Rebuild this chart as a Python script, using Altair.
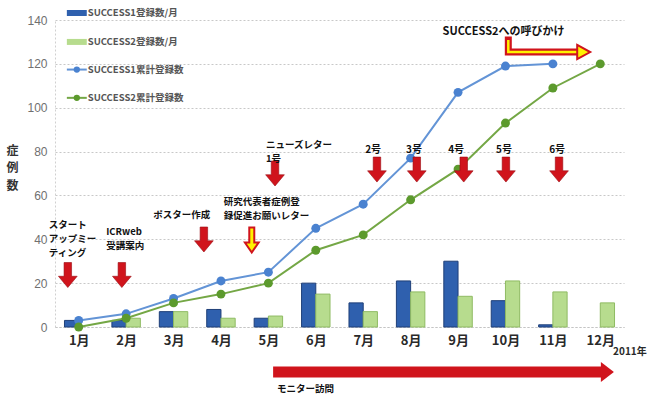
import altair as alt
import pandas as pd

# ---------------- data ----------------
months = list(range(1, 13))
s1_monthly = [3, 3, 7, 8, 4, 20, 11, 21, 30, 12, 1, 0]
s2_monthly = [0, 4, 7, 4, 5, 15, 7, 16, 14, 21, 16, 11]
s1_cum = [3, 6, 13, 21, 25, 45, 56, 77, 107, 119, 120, None]
s2_cum = [0, 4, 11, 15, 20, 35, 42, 58, 72, 93, 109, 120]
y_ticks = [0, 20, 40, 60, 80, 100, 120, 140]
legend_labels = ["SUCCESS1登録数/月", "SUCCESS2登録数/月", "SUCCESS1累計登録数", "SUCCESS2累計登録数"]

# annotation anchors (month position, value)
red_arrow_m = [0.77, 1.91, 3.64, 5.14, 7.29, 8.13, 9.12, 10.01, 11.13]
red_arrow_v = [23.7, 23.7, 39.9, 70.0, 71.8, 71.8, 71.8, 71.8, 71.8]
yellow_arrow_m = [4.65]
yellow_arrow_v = [39.7]

left_text = ["スタート", "アップミー", "ティング", "ICRweb", "受講案内", "ポスター作成",
             "研究代表者症例登", "録促進お願いレター", "ニューズレター", "1号", "モニター訪問"]
left_text_m = [0.37, 0.37, 0.37, 1.58, 1.58, 2.57, 4.06, 4.06, 4.95, 4.95, 5.18]
left_text_v = [46.5, 40.1, 33.7, 43.3, 36.9, 51.1, 56.8, 50.4, 83.2, 76.8, -28.3]

issue_text = ["2号", "3号", "4号", "5号", "6号"]
issue_text_m = [7.21, 8.07, 8.96, 9.97, 11.09]
issue_text_v = [80.9, 80.9, 80.9, 80.9, 80.9]

call_text = ["SUCCESS2への呼びかけ"]
call_text_m = [9.96]
call_text_v = [134.3]
call_path_m = [10.06, 10.06, 11.56]
call_path_v = [130.9, 125.4, 125.4]
call_head_m = [11.65]
call_head_v = [125.4]

monitor_m = [5.10]
monitor_m2 = [12.06]
monitor_v = [-20.5]
monitor_head_m = [12.15]

year_text = ["2011年"]
year_m = [12.27]
year_v = [-11.4]

legend_v = [143.2, 130.0, 117.4, 104.5]
legend_sym_m = [0.75, 1.17]
legend_dot_m = 0.96
legend_text_m = 1.19

# ---------------- styles ----------------
FONT = "Noto Sans CJK JP"
BLUE_BAR = "#2f60ae"
BLUE_BAR_STROKE = "#1f3f78"
GREEN_BAR = "#b7dc8e"
GREEN_BAR_STROKE = "#8fbb63"
BLUE_LINE = "#6394d6"
BLUE_PT = "#4a82d0"
GREEN_LINE = "#74a745"
GREEN_PT = "#5c9a2d"
RED = "#d0141c"
RED_DARK = "#9a0c12"
YELLOW = "#fff200"

DOWN_ARROW = "M-0.3,-1 L0.3,-1 L0.3,0.1 L0.75,0.1 L0,1 L-0.75,0.1 L-0.3,0.1 Z"
THIN_DOWN_ARROW = "M-0.2,-1 L0.2,-1 L0.2,0.2 L0.55,0.2 L0,1 L-0.55,0.2 L-0.2,0.2 Z"
RIGHT_HEAD = "M-0.65,-1 L0.65,0 L-0.65,1 Z"
RIGHT_HEAD_SMALL = "M-0.5,-0.55 L0.5,0 L-0.5,0.55 Z"

xscale = alt.Scale(domain=[0.5, 12.5], nice=False, zero=False)
yscale = alt.Scale(domain=[0, 140], nice=False)
xaxis = alt.Axis(values=months, labelExpr="datum.value + '月'", title=None, grid=False,
                 ticks=False, domain=True, domainColor="#c4c4c4", domainDash=[2, 2],
                 labelFont=FONT, labelFontSize=13, labelFontWeight="bold",
                 labelColor="#2a2a2a", labelPadding=7)
yaxis = alt.Axis(values=y_ticks, title=["症", "例", "数"], titleAngle=0, titleX=-43, titleY=130,
                 titleAlign="center", titleBaseline="middle", titleLineHeight=17.5,
                 titleFont=FONT, titleFontSize=12, titleFontWeight="bold", titleColor="#333",
                 grid=True, gridDash=[2, 2], gridColor="#c8c8c8", ticks=False,
                 domain=True, domainColor="#d0d0d0", domainDash=[2, 2],
                 labelFont="Liberation Sans", labelFontSize=12, labelColor="#707070",
                 labelPadding=8)


def X(f):
    return alt.X(f, type="quantitative", scale=xscale, axis=xaxis)


def Y(f):
    return alt.Y(f, type="quantitative", scale=yscale, axis=yaxis)


df = pd.DataFrame({"m": months, "s1": s1_monthly, "s2": s2_monthly,
                   "c1": s1_cum, "c2": s2_cum})
base = alt.Chart(df)

bars1 = base.transform_filter("datum.s1 > 0").transform_calculate(a="datum.m - 0.3").mark_rect(
    color=BLUE_BAR, stroke=BLUE_BAR_STROKE, strokeWidth=1
).encode(x=X("a"), x2="m", y=Y("s1"), y2=alt.datum(0))

bars2 = base.transform_filter("datum.s2 > 0").transform_calculate(b="datum.m + 0.3").mark_rect(
    color=GREEN_BAR, stroke=GREEN_BAR_STROKE, strokeWidth=1
).encode(x=X("m"), x2="b", y=Y("s2"), y2=alt.datum(0))

line1 = base.transform_filter("datum.c1 != null").mark_line(color=BLUE_LINE, strokeWidth=2).encode(
    x=X("m"), y=Y("c1"))
pts1 = base.transform_filter("datum.c1 != null").mark_circle(color=BLUE_PT, size=80, opacity=1).encode(
    x=X("m"), y=Y("c1"))
line2 = base.mark_line(color=GREEN_LINE, strokeWidth=2).encode(x=X("m"), y=Y("c2"))
pts2 = base.mark_circle(color=GREEN_PT, size=80, opacity=1).encode(x=X("m"), y=Y("c2"))

# event arrows
red_arrows = alt.Chart(pd.DataFrame({"m": red_arrow_m, "v": red_arrow_v})).mark_point(
    shape=DOWN_ARROW, filled=True, color=RED, stroke=RED_DARK, strokeWidth=0.6, size=625, opacity=1
).encode(x=X("m"), y=Y("v"))
yellow_arrows = alt.Chart(pd.DataFrame({"m": yellow_arrow_m, "v": yellow_arrow_v})).mark_point(
    shape=THIN_DOWN_ARROW, filled=True, fill=YELLOW, stroke=RED, strokeWidth=2, size=625, opacity=1
).encode(x=X("m"), y=Y("v"))

left_labels = alt.Chart(pd.DataFrame({"m": left_text_m, "v": left_text_v, "t": left_text})).mark_text(
    align="left", baseline="middle", font=FONT, fontSize=9.5, fontWeight="bold", color="#111"
).encode(x=X("m"), y=Y("v"), text="t:N")
issue_labels = alt.Chart(pd.DataFrame({"m": issue_text_m, "v": issue_text_v, "t": issue_text})).mark_text(
    align="center", baseline="middle", font=FONT, fontSize=10, fontWeight="bold", color="#111"
).encode(x=X("m"), y=Y("v"), text="t:N")
call_label = alt.Chart(pd.DataFrame({"m": call_text_m, "v": call_text_v, "t": call_text})).mark_text(
    align="center", baseline="middle", font=FONT, fontSize=11, fontWeight="bold", color="#111"
).encode(x=X("m"), y=Y("v"), text="t:N")
year_label = alt.Chart(pd.DataFrame({"m": year_m, "v": year_v, "t": year_text})).mark_text(
    align="left", baseline="middle", font=FONT, fontSize=10, fontWeight="bold", color="#2a2a2a"
).encode(x=X("m"), y=Y("v"), text="t:N")

# SUCCESS2 call arrow (L-shaped, hollow)
call_df = pd.DataFrame({"m": call_path_m, "v": call_path_v, "o": [0, 1, 2]})
call_outer = alt.Chart(call_df).mark_line(color=RED, strokeWidth=7, strokeCap="square", strokeJoin="miter").encode(
    x=X("m"), y=Y("v"), order="o:Q")
call_inner = alt.Chart(call_df).mark_line(color=YELLOW, strokeWidth=2.5, strokeCap="butt", strokeJoin="miter").encode(
    x=X("m"), y=Y("v"), order="o:Q")
call_head = alt.Chart(pd.DataFrame({"m": call_head_m, "v": call_head_v})).mark_point(
    shape=RIGHT_HEAD_SMALL, filled=True, fill=YELLOW, stroke=RED, strokeWidth=2, size=676, opacity=1
).encode(x=X("m"), y=Y("v"))

# monitor visit arrow
mon_df = pd.DataFrame({"m": monitor_m, "m2": monitor_m2, "v": monitor_v})
mon_shaft = alt.Chart(mon_df).mark_rule(color=RED, strokeWidth=11, strokeCap="butt").encode(
    x=X("m"), x2="m2", y=Y("v"))
mon_head = alt.Chart(pd.DataFrame({"m": monitor_head_m, "v": monitor_v})).mark_point(
    shape=RIGHT_HEAD, filled=True, color=RED, size=400, opacity=1
).encode(x=X("m"), y=Y("v"))

# legend (manual)
legend_layers = []
sym_colors = [BLUE_BAR, GREEN_BAR, BLUE_LINE, GREEN_LINE]
dot_colors = [None, None, BLUE_PT, GREEN_PT]
for i, lab in enumerate(legend_labels):
    sdf = pd.DataFrame({"m": [legend_sym_m[0]], "m2": [legend_sym_m[1]], "v": [legend_v[i]]})
    width = 6 if i < 2 else 2
    legend_layers.append(alt.Chart(sdf).mark_rule(color=sym_colors[i], strokeWidth=width, strokeCap="butt").encode(
        x=X("m"), x2="m2", y=Y("v")))
    if dot_colors[i]:
        legend_layers.append(alt.Chart(pd.DataFrame({"m": [legend_dot_m], "v": [legend_v[i]]})).mark_circle(
            color=dot_colors[i], size=40, opacity=1).encode(x=X("m"), y=Y("v")))
    legend_layers.append(alt.Chart(pd.DataFrame({"m": [legend_text_m], "v": [legend_v[i]], "t": [lab]})).mark_text(
        align="left", baseline="middle", font=FONT, fontSize=9.5, fontWeight="bold", color="#555"
    ).encode(x=X("m"), y=Y("v"), text="t:N"))

chart = alt.layer(
    bars1, bars2, line1, line2, pts1, pts2,
    red_arrows, yellow_arrows, left_labels, issue_labels, call_label, year_label,
    call_outer, call_inner, call_head, mon_shaft, mon_head,
    *legend_layers
).properties(
    width=569, height=307,
    padding={"left": 55, "top": 20, "right": 37, "bottom": 71},
    autosize=alt.AutoSizeParams(type="none"),
    background="white",
).configure_view(stroke=None)

chart.save("out.html", embed_options={"renderer": "svg", "actions": False})
